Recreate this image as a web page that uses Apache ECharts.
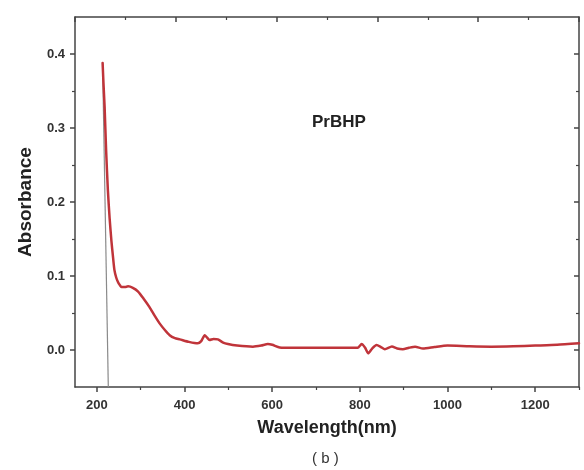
<!DOCTYPE html>
<html>
<head>
<meta charset="utf-8">
<script src="https://cdn.jsdelivr.net/npm/echarts@6/dist/echarts.min.js"></script>
<style>html,body{margin:0;padding:0;background:#fff;}#c{width:584px;height:470px;}</style>
</head>
<body>
<div id="c"></div>
<script>
// Data
const wavelength = [213, 215, 217.6, 221, 225, 229, 233, 237, 240, 244, 248, 252, 256, 264, 271, 282, 294, 307, 320, 332, 343, 355, 366, 378, 389, 410, 430, 438, 446, 451, 457, 466, 476, 488, 499, 520, 556, 575, 590, 600, 617, 650, 700, 750, 795, 804, 812, 819, 828, 838, 848, 857, 873, 885, 898, 912, 926, 944, 970, 1000, 1050, 1100, 1150, 1200, 1250, 1300];
const absorbance = [0.388, 0.36, 0.328, 0.27, 0.216, 0.178, 0.148, 0.124, 0.108, 0.098, 0.092, 0.088, 0.085, 0.085, 0.086, 0.084, 0.079, 0.069, 0.058, 0.046, 0.036, 0.027, 0.020, 0.016, 0.0144, 0.011, 0.009, 0.012, 0.020, 0.017, 0.0135, 0.015, 0.0144, 0.010, 0.008, 0.006, 0.0045, 0.006, 0.008, 0.007, 0.0035, 0.003, 0.003, 0.003, 0.003, 0.008, 0.003, -0.0045, 0.002, 0.0067, 0.004, 0.001, 0.0047, 0.002, 0.001, 0.003, 0.0045, 0.002, 0.004, 0.006, 0.005, 0.0045, 0.005, 0.006, 0.007, 0.009];
const greyLineX = [213, 226];
const greyLineY = [0.387, -0.05];
const xMajorTicks = [200, 400, 600, 800, 1000, 1200];
const xMinorTicks = [300, 500, 700, 900, 1100, 1300];
const yMajorTicks = [0, 0.1, 0.2, 0.3, 0.4];
const yMinorTicks = [0.05, 0.15, 0.25, 0.35];

const chart = echarts.init(document.getElementById('c'), null, {renderer: 'canvas'});
const axisLineStyle = {color: '#444', width: 1.5};
const labelFont = {fontFamily: 'Liberation Sans, Arial, sans-serif', fontWeight: 'bold', fontSize: 13, color: '#333'};
const X = {min: 150, max: 1300};
const Y = {min: -0.05, max: 0.45};
const red = wavelength.map((w, i) => [w, absorbance[i]]);
const grey = greyLineX.map((w, i) => [w, greyLineY[i]]);

chart.setOption({
  animation: false,
  backgroundColor: '#fff',
  grid: {left: 75, right: 5, top: 17, bottom: 83, containLabel: false},
  xAxis: [
    {type: 'value', position: 'bottom', min: X.min, max: X.max,
     axisLine: {show: true, onZero: false, lineStyle: axisLineStyle},
     axisTick: {show: true, length: 5, lineStyle: {color: '#444', width: 1.5}, customValues: xMajorTicks},
     axisLabel: Object.assign({margin: 12, customValues: xMajorTicks, formatter: v => String(v)}, labelFont),
     splitLine: {show: false},
     name: 'Wavelength(nm)', nameLocation: 'middle', nameGap: 32,
     nameTextStyle: {fontFamily: 'Liberation Sans, Arial, sans-serif', fontWeight: 'bold', fontSize: 18, color: '#222'}},
    {type: 'value', position: 'bottom', min: X.min, max: X.max,
     axisLine: {show: false, onZero: false},
     axisTick: {show: true, length: 3, lineStyle: {color: '#444', width: 1.2}, customValues: xMinorTicks},
     axisLabel: {show: false}, splitLine: {show: false}},
    {type: 'value', position: 'top', min: 0, max: 10, interval: 2,
     axisLine: {show: true, onZero: false, lineStyle: axisLineStyle},
     axisTick: {show: true, inside: true, length: 5, lineStyle: {color: '#444', width: 1.5}},
     minorTick: {show: true, splitNumber: 2, length: 3, lineStyle: {color: '#444', width: 1.2}},
     axisLabel: {show: false}, splitLine: {show: false}}
  ],
  yAxis: [
    {type: 'value', position: 'left', min: Y.min, max: Y.max,
     axisLine: {show: true, onZero: false, lineStyle: axisLineStyle},
     axisTick: {show: true, length: 5, lineStyle: {color: '#444', width: 1.5}, customValues: yMajorTicks},
     axisLabel: Object.assign({margin: 10, customValues: yMajorTicks, formatter: v => v.toFixed(1)}, labelFont),
     splitLine: {show: false},
     name: 'Absorbance', nameLocation: 'middle', nameGap: 40,
     nameTextStyle: {fontFamily: 'Liberation Sans, Arial, sans-serif', fontWeight: 'bold', fontSize: 19, color: '#222'}},
    {type: 'value', position: 'left', min: Y.min, max: Y.max,
     axisLine: {show: false, onZero: false},
     axisTick: {show: true, length: 3, lineStyle: {color: '#444', width: 1.2}, customValues: yMinorTicks},
     axisLabel: {show: false}, splitLine: {show: false}},
    {type: 'value', position: 'right', min: Y.min, max: Y.max,
     axisLine: {show: true, onZero: false, lineStyle: axisLineStyle},
     axisTick: {show: true, inside: true, length: 5, lineStyle: {color: '#444', width: 1.5}, customValues: yMajorTicks},
     axisLabel: {show: false}, splitLine: {show: false}},
    {type: 'value', position: 'right', min: Y.min, max: Y.max,
     axisLine: {show: false, onZero: false},
     axisTick: {show: true, inside: true, length: 3, lineStyle: {color: '#444', width: 1.2}, customValues: yMinorTicks},
     axisLabel: {show: false}, splitLine: {show: false}}
  ],
  series: [
    {type: 'line', xAxisIndex: 0, yAxisIndex: 0, data: grey, symbol: 'none',
     lineStyle: {color: '#8a8a8a', width: 1.2}, z: 2},
    {type: 'line', xAxisIndex: 0, yAxisIndex: 0, data: red, symbol: 'none', smooth: 0.2,
     lineStyle: {color: '#c0343a', width: 2.5, join: 'round', cap: 'round'}, z: 3}
  ],
  graphic: [
    {type: 'text', left: 312, top: 114, style: {text: 'PrBHP', font: 'bold 17px Liberation Sans, Arial, sans-serif', fill: '#222'}},
    {type: 'text', left: 312, top: 451, style: {text: '( b )', font: '15px Liberation Sans, Arial, sans-serif', fill: '#333'}}
  ]
});
</script>
</body>
</html>
